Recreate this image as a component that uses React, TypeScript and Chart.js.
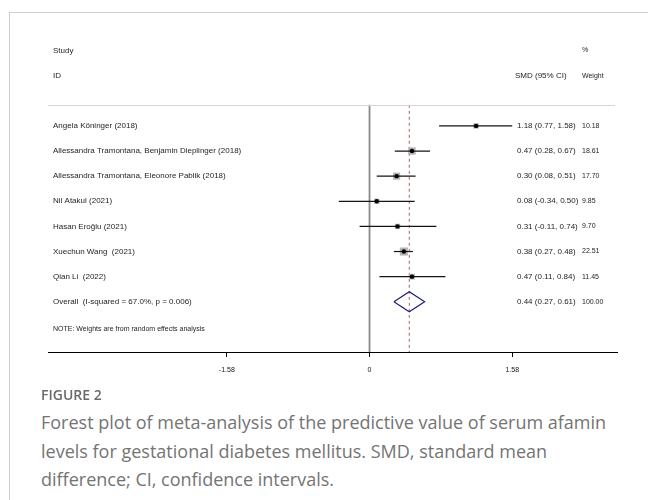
import React, { useEffect, useRef } from "react";
import { Chart, registerables } from "chart.js";

Chart.register(...registerables);

const studies = [
  "Angela Köninger (2018)",
  "Allessandra Tramontana, Benjamin Dieplinger (2018)",
  "Allessandra Tramontana, Eleonore Pablik (2018)",
  "Nil Atakul (2021)",
  "Hasan Eroğlu (2021)",
  "Xuechun Wang  (2021)",
  "Qian Li  (2022)",
];
const estimates = [1.18, 0.47, 0.3, 0.08, 0.31, 0.38, 0.47];
const lowers = [0.77, 0.28, 0.08, -0.34, -0.11, 0.27, 0.11];
const uppers = [1.58, 0.67, 0.51, 0.5, 0.74, 0.48, 0.84];
const weights = [10.18, 18.61, 17.7, 9.85, 9.7, 22.51, 11.45];

const overallLabel = "Overall  (I-squared = 67.0%, p = 0.006)";
const overallEstimate = 0.44;
const overallLower = 0.27;
const overallUpper = 0.61;
const overallWeight = 100.0;

const xTicks = [-1.58, 0, 1.58];
const xMin = -3.56;
const xMax = 2.74;

const noteText = "NOTE: Weights are from random effects analysis";
const captionTitle = "FIGURE 2";
const captionLines = [
  "Forest plot of meta-analysis of the predictive value of serum afamin",
  "levels for gestational diabetes mellitus. SMD, standard mean",
  "difference; CI, confidence intervals.",
];

const fmt = (v: number) => v.toFixed(2);

export default function App() {
  const ref = useRef<HTMLCanvasElement | null>(null);

  useEffect(() => {
    document.body.style.margin = "0";
    const canvas = ref.current;
    if (!canvas) return;
    const overallRow = studies.length;
    const topLineY = -0.84;
    const axisY = overallRow + 2;

    const textPlugin = {
      id: "forestText",
      afterDatasetsDraw(chart: any) {
        const { ctx, chartArea, scales } = chart;
        const y = scales.y;
        const left = chartArea.left + 5;
        const estX = chartArea.left + 469;
        const wX = chartArea.left + 534;
        ctx.save();
        ctx.strokeStyle = "#d4d4d4";
        ctx.lineWidth = 1;
        ctx.beginPath();
        const ty = Math.round(y.getPixelForValue(topLineY)) + 0.5;
        ctx.moveTo(chartArea.left, ty);
        ctx.lineTo(chartArea.right - 2, ty);
        ctx.stroke();

        ctx.fillStyle = "#1e1e1e";
        ctx.textBaseline = "middle";
        ctx.textAlign = "left";
        const f8 = '8px "Liberation Sans", Arial, sans-serif';
        const f7 = '7px "Liberation Sans", Arial, sans-serif';
        ctx.font = f8;
        ctx.fillText("Study", left, y.getPixelForValue(-3));
        ctx.fillText("ID", left, y.getPixelForValue(-2));
        ctx.fillText("SMD (95% CI)", estX - 2, y.getPixelForValue(-2));
        ctx.font = f7;
        ctx.fillText("%", wX, y.getPixelForValue(-3));
        ctx.fillText("Weight", wX, y.getPixelForValue(-2));

        studies.forEach((s, i) => {
          const py = y.getPixelForValue(i);
          ctx.font = f8;
          ctx.fillText(s, left, py);
          ctx.fillText(
            `${fmt(estimates[i])} (${fmt(lowers[i])}, ${fmt(uppers[i])})`,
            estX,
            py
          );
          ctx.font = f7;
          ctx.fillText(fmt(weights[i]), wX, py);
        });
        const oy = y.getPixelForValue(overallRow);
        ctx.font = f8;
        ctx.fillText(overallLabel, left, oy);
        ctx.fillText(
          `${fmt(overallEstimate)} (${fmt(overallLower)}, ${fmt(overallUpper)})`,
          estX,
          oy
        );
        ctx.font = f7;
        ctx.fillText(fmt(overallWeight), wX, oy);
        ctx.fillText(noteText, left, y.getPixelForValue(overallRow + 1.08));
        ctx.restore();
      },
    };

    const ciSets = studies.map((_, i) => ({
      label: "ci" + i,
      data: [
        { x: lowers[i], y: i },
        { x: uppers[i], y: i },
      ],
      showLine: true,
      borderColor: "#151515",
      borderWidth: 1.2,
      pointRadius: 0,
      order: 1,
    }));

    const chart = new Chart(canvas, {
      type: "scatter",
      data: {
        datasets: [
          {
            label: "points",
            data: estimates.map((e, i) => ({ x: e, y: i })),
            pointStyle: "circle",
            pointRadius: 2.2,
            backgroundColor: "#000",
            borderWidth: 0,
            order: 0,
          },
          ...ciSets,
          {
            label: "boxes",
            data: estimates.map((e, i) => ({ x: e, y: i })),
            pointStyle: "rect",
            pointRadius: weights.map((w) => 1.2 * Math.sqrt(w)),
            backgroundColor: "#b3b3b3",
            borderWidth: 0,
            order: 2,
          },
          {
            label: "overall",
            data: [
              { x: overallLower, y: overallRow },
              { x: overallEstimate, y: overallRow - 0.4 },
              { x: overallUpper, y: overallRow },
              { x: overallEstimate, y: overallRow + 0.4 },
              { x: overallLower, y: overallRow },
            ],
            showLine: true,
            borderColor: "#1d1d78",
            borderWidth: 1.2,
            pointRadius: 0,
            fill: false,
            order: 1,
          },
          {
            label: "zero",
            data: [
              { x: 0, y: topLineY },
              { x: 0, y: axisY },
            ],
            showLine: true,
            borderColor: "#8a8a8a",
            borderWidth: 1.8,
            pointRadius: 0,
            order: 3,
          },
          {
            label: "overallLine",
            data: [
              { x: overallEstimate, y: topLineY },
              { x: overallEstimate, y: axisY },
            ],
            showLine: true,
            borderColor: "#b85c5c",
            borderDash: [3, 3],
            borderWidth: 1,
            pointRadius: 0,
            order: 3,
          },
        ],
      },
      options: {
        responsive: false,
        animation: false,
        events: [],
        layout: { padding: { left: 48, right: 31, top: 38, bottom: 6.6 } },
        plugins: { legend: { display: false }, tooltip: { enabled: false } },
        scales: {
          x: {
            type: "linear",
            min: xMin,
            max: xMax,
            afterBuildTicks: (scale: any) => {
              scale.ticks = xTicks.map((v) => ({ value: v }));
            },
            grid: {
              display: true,
              drawOnChartArea: false,
              drawTicks: true,
              tickLength: 5,
              color: "#000",
              lineWidth: 1,
            },
            border: { display: true, color: "#000", width: 1 },
            ticks: {
              autoSkip: false,
              maxRotation: 0,
              padding: 9,
              color: "#111",
              font: { family: '"Liberation Sans", Arial, sans-serif', size: 7 },
              callback: (v: any) => String(v),
            },
          },
          y: {
            type: "linear",
            display: false,
            reverse: true,
            min: -3.5,
            max: axisY,
          },
        },
      },
      plugins: [textPlugin],
    });
    return () => chart.destroy();
  }, []);

  return (
    <div
      style={{
        position: "fixed",
        left: 0,
        top: 0,
        width: 648,
        height: 500,
        background: "#fff",
        overflow: "hidden",
      }}
    >
      <div
        style={{
          position: "absolute",
          left: 9,
          top: 12,
          right: 0,
          bottom: 0,
          borderLeft: "1px solid #cfcfcf",
          borderTop: "1px solid #cfcfcf",
        }}
      />
      <canvas
        ref={ref}
        width={648}
        height={390}
        style={{ position: "absolute", left: 0, top: 0, display: "block" }}
      />
      <div
        style={{
          position: "absolute",
          left: 41,
          top: 385,
          fontFamily: '"Open Sans", sans-serif',
          fontWeight: 600,
          fontSize: 14,
          lineHeight: "20px",
          color: "#6a6a6a",
        }}
      >
        {captionTitle}
      </div>
      <div
        style={{
          position: "absolute",
          left: 41,
          top: 408,
          fontFamily: '"Open Sans", sans-serif',
          fontWeight: 400,
          fontSize: 18,
          lineHeight: "28.5px",
          color: "#747474",
          whiteSpace: "nowrap",
        }}
      >
        {captionLines.map((l, i) => (
          <div key={i}>{l}</div>
        ))}
      </div>
    </div>
  );
}
